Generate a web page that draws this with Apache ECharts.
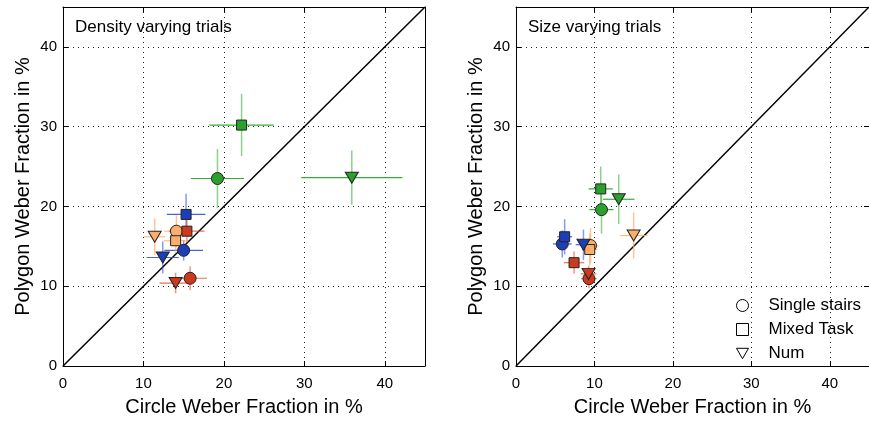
<!DOCTYPE html>
<html>
<head>
<meta charset="utf-8">
<script src="https://cdn.jsdelivr.net/npm/echarts@6/dist/echarts.min.js"></script>
<style>
  html, body { margin: 0; padding: 0; background: #fff; }
  #chart { width: 869px; height: 422px; }
</style>
</head>
<body>
<div id="chart"></div>
<script>
// rows: [x, y, xErr, yErr], in group order green, blue, red, orange
const densityStairs = [[19.2, 23.5, 3.3, 3.7], [15.0, 14.5, 2.4, 1.3], [15.8, 11.0, 2.1, 1.5], [14.1, 16.9, 1.5, 2.0]];
const densityMixed  = [[22.2, 30.2, 4.0, 3.9], [15.3, 19.0, 2.4, 2.6], [15.4, 16.9, 2.2, 1.5], [14.0, 15.7, 1.5, 1.5]];
const densityNum    = [[35.9, 23.6, 6.3, 3.4], [12.4, 13.6, 2.0, 2.0], [14.0, 10.4, 2.0, 1.3], [11.4, 16.2, 1.3, 2.3]];

const sizeStairs = [[10.9, 19.6, 1.55, 3.0], [5.9, 15.3, 1.2, 1.7], [9.3, 10.95, 1.0, 1.2], [9.5, 15.1, 1.0, 2.2]];
const sizeMixed  = [[10.8, 22.2, 1.55, 2.8], [6.2, 16.2, 0.95, 2.2], [7.4, 12.95, 1.3, 1.4], [9.4, 14.6, 1.0, 2.0]];
const sizeNum    = [[13.1, 20.9, 2.0, 3.1], [8.6, 15.2, 1.0, 1.9], [9.25, 11.55, 1.0, 1.0], [15.0, 16.35, 1.75, 2.9]];

const diagonal = [[0, 0], [45, 45]];
const tasks = ['Single stairs', 'Mixed Task', 'Num'];
const panelTitles = ['Density varying trials', 'Size varying trials'];

const fills = ['#2ca02c', '#1c3fb8', '#cc3a1e', '#fdae6b'];
const barH  = ['rgba(44,170,44,0.95)', 'rgba(40,70,220,0.85)', 'rgba(215,70,40,0.75)', 'rgba(253,174,107,0.85)'];
const barV  = ['rgba(44,170,44,0.55)', 'rgba(40,70,220,0.55)', 'rgba(215,70,40,0.55)', 'rgba(253,174,107,0.7)'];

const triDown = 'path://M0,0L10,0L5,8.66Z';
const symbols = ['circle', 'rect', triDown];
const symSizes = [12, 10, [13, 11]];
const font = 'Liberation Sans';

const grids = [
  { left: 63, top: 7, width: 362, height: 362 },
  { left: 516, top: 7, width: 363, height: 362 }
];

function axisBase(gi, pos, withLabels) {
  return {
    type: 'value', gridIndex: gi, position: pos, min: 0, max: 45, interval: 10,
    axisLine: { show: true, onZero: false, lineStyle: { color: '#000', width: 1 } },
    axisTick: { show: true, inside: true, length: 5, lineStyle: { color: '#000' } },
    axisLabel: { show: withLabels, color: '#000', fontSize: 15, fontFamily: font, margin: pos === 'left' ? 6 : 10, showMaxLabel: false },
    splitLine: { show: withLabels, lineStyle: { color: '#222', type: [1, 4], width: 1 } }
  };
}

const xAxes = [], yAxes = [];
[0, 1].forEach(gi => {
  xAxes.push(Object.assign(axisBase(gi, 'bottom', true), {
    name: 'Circle Weber Fraction in %', nameLocation: 'middle', nameGap: 31,
    nameTextStyle: { fontSize: 20, fontFamily: font, color: '#000' }
  }));
  xAxes.push(axisBase(gi, 'top', false));
  yAxes.push(Object.assign(axisBase(gi, 'left', true), {
    name: 'Polygon Weber Fraction in %', nameLocation: 'middle', nameGap: 30,
    nameTextStyle: { fontSize: 20, fontFamily: font, color: '#000' }
  }));
  yAxes.push(axisBase(gi, 'right', false));
});

function renderErr(params, api) {
  const x = api.value(0), y = api.value(1), ex = api.value(2), ey = api.value(3), g = api.value(4);
  const l = api.coord([x - ex, y]), r = api.coord([x + ex, y]);
  const t = api.coord([x, y + ey]), b = api.coord([x, y - ey]);
  return {
    type: 'group',
    children: [
      { type: 'line', shape: { x1: t[0], y1: t[1], x2: b[0], y2: b[1] }, style: { stroke: barV[g], lineWidth: 1.5 } },
      { type: 'line', shape: { x1: l[0], y1: l[1], x2: r[0], y2: r[1] }, style: { stroke: barH[g], lineWidth: 1.2 } }
    ]
  };
}

const panels = [
  [densityStairs, densityMixed, densityNum],
  [sizeStairs, sizeMixed, sizeNum]
];

const series = [];
panels.forEach((sets, gi) => {
  const axisIdx = gi * 2;
  series.push({
    type: 'line', xAxisIndex: axisIdx, yAxisIndex: axisIdx, data: diagonal,
    symbol: 'none', silent: true, lineStyle: { color: '#000', width: 1.5 }, z: 1
  });
  const errData = [];
  sets.forEach(rows => rows.forEach((r, g) => errData.push([r[0], r[1], r[2], r[3], g])));
  series.push({
    type: 'custom', xAxisIndex: axisIdx, yAxisIndex: axisIdx, renderItem: renderErr,
    encode: { x: 0, y: 1 }, data: errData, silent: true, z: 2
  });
  sets.forEach((rows, ti) => {
    series.push({
      name: tasks[ti], type: 'scatter', xAxisIndex: axisIdx, yAxisIndex: axisIdx,
      symbol: symbols[ti], symbolSize: symSizes[ti], z: 3,
      data: rows.map((r, g) => ({
        value: [r[0], r[1]],
        itemStyle: { color: fills[g], borderColor: '#222', borderWidth: 1, opacity: 1 }
      }))
    });
  });
});

const legendIcon = { color: 'transparent', borderColor: '#000', borderWidth: 1, opacity: 1 };
const titleStyle = { fontSize: 17, fontWeight: 'normal', color: '#000', fontFamily: font };

const option = {
  animation: false,
  backgroundColor: '#fff',
  textStyle: { fontFamily: font },
  title: [
    { text: panelTitles[0], left: 75, top: 19, padding: 0, textStyle: titleStyle },
    { text: panelTitles[1], left: 528, top: 19, padding: 0, textStyle: titleStyle }
  ],
  grid: grids,
  xAxis: xAxes,
  yAxis: yAxes,
  legend: {
    orient: 'vertical', left: 731, top: 292, itemWidth: 12, itemHeight: 12, itemGap: 7,
    selectedMode: false,
    textStyle: { fontSize: 17, color: '#000', fontFamily: font, padding: [0, 0, 0, 15] },
    data: [
      { name: tasks[0], icon: 'circle', itemStyle: legendIcon },
      { name: tasks[1], icon: 'path://M0,0L10,0L10,10L0,10Z', itemStyle: legendIcon },
      { name: tasks[2], icon: triDown, itemStyle: legendIcon }
    ]
  },
  series: series
};

const chart = echarts.init(document.getElementById('chart'), null, { renderer: 'canvas' });
chart.setOption(option);
</script>
</body>
</html>
